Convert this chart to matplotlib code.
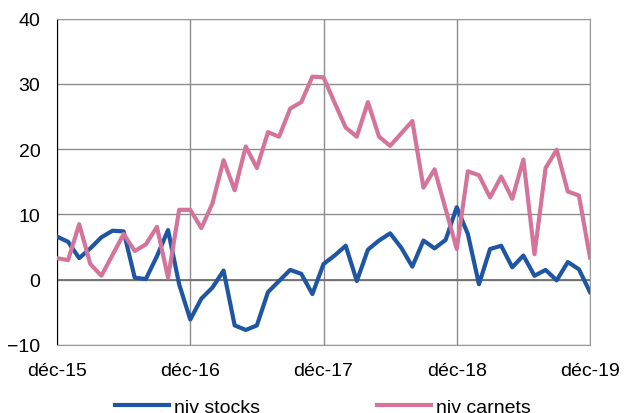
import numpy as np
import pandas as pd
import matplotlib
matplotlib.use("Agg")
import matplotlib.pyplot as plt

# monthly series, déc-15 .. déc-19
months = pd.date_range("2015-12-01", "2019-12-01", freq="MS")
tick_labels = ["déc-15", "déc-16", "déc-17", "déc-18", "déc-19"]

niv_stocks = [6.6, 5.8, 3.3, 4.8, 6.5, 7.5, 7.4, 0.3, 0.1, 3.6, 7.6, -0.7,
              -6.1, -2.9, -1.2, 1.4, -7.0, -7.7, -7.0, -1.9, -0.2, 1.5, 0.9, -2.2,
              2.4, 3.7, 5.2, -0.2, 4.6, 6.0, 7.1, 4.9, 2.0, 6.0, 4.8, 6.1,
              11.1, 7.0, -0.7, 4.7, 5.2, 1.9, 3.7, 0.6, 1.5, -0.1, 2.7, 1.6,
              -1.9]
niv_carnets = [3.3, 3.0, 8.5, 2.4, 0.6, 3.8, 7.0, 4.4, 5.4, 8.1, 0.3, 10.7,
               10.7, 7.9, 11.7, 18.3, 13.7, 20.4, 17.1, 22.6, 21.9, 26.2, 27.2, 31.1,
               31.0, 27.1, 23.3, 21.9, 27.2, 21.9, 20.5, 22.4, 24.3, 14.1, 16.9, 10.8,
               4.7, 16.6, 16.0, 12.6, 15.8, 12.4, 18.4, 3.9, 17.1, 19.9, 13.5, 12.9,
               3.4]

plt.rcParams["font.family"] = ["Liberation Sans", "DejaVu Sans"]

x = np.arange(len(months))
fig = plt.figure(figsize=(6.24, 4.14), dpi=100)
ax = fig.add_axes([57 / 624, 1 - 346 / 414, 533 / 624, 326.5 / 414])

ax.plot(x, niv_stocks, color="#1F56A3", lw=3, label="niv stocks", zorder=3)
ax.plot(x, niv_carnets, color="#D4749A", lw=3, label="niv carnets", zorder=3)

ax.set_xlim(0, len(months) - 1)
ax.set_ylim(-10, 40)
ax.set_yticks(range(-10, 41, 10))
ax.set_xticks(x[::12])
ax.set_xticklabels(tick_labels)
ax.tick_params(length=0, labelsize=14, pad=12)
ax.grid(True, color="#8c8c8c", lw=1)
ax.axhline(0, color="#707070", lw=1.3, zorder=2)
for s in ["top", "right", "bottom"]:
    ax.spines[s].set_color("#9a9a9a")
ax.spines["left"].set_color("black")
ax.set_axisbelow(True)

fig.legend(loc="center", bbox_to_anchor=(323 / 624, 1 - 408 / 414), ncol=2,
           frameon=False, fontsize=14, handlelength=2.8, handletextpad=0.25,
           columnspacing=6.0)

fig.savefig("out.png", dpi=100)
